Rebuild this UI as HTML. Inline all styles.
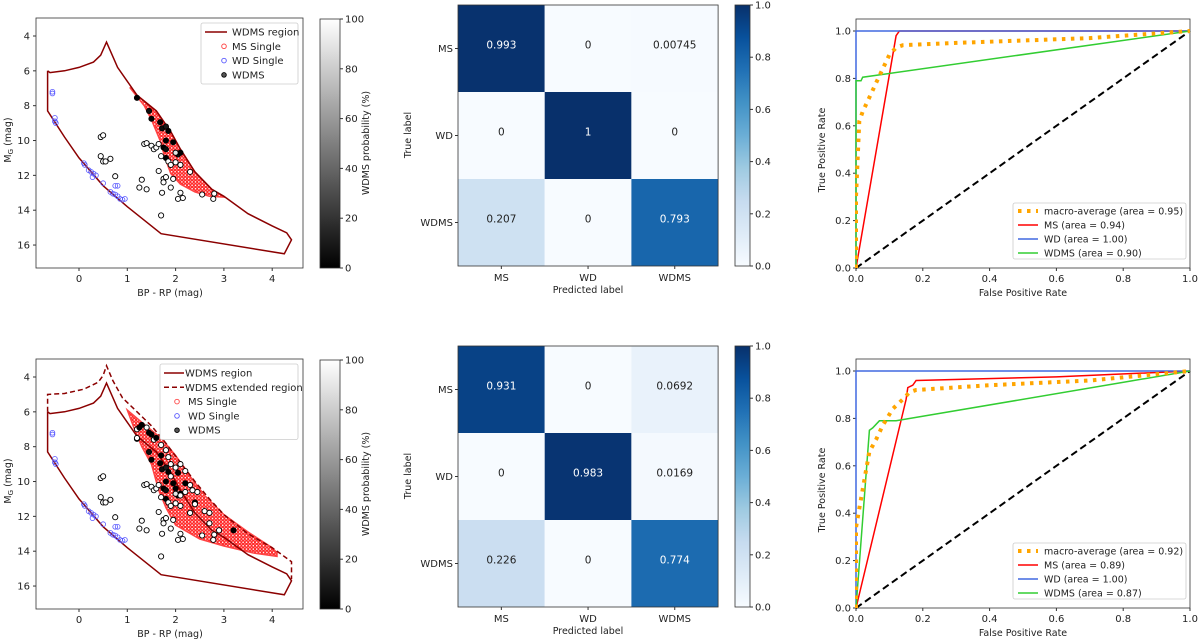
<!DOCTYPE html>
<html><head><meta charset="utf-8"><style>
body{margin:0;background:#fff}
svg{display:block;font-family:"DejaVu Sans","Liberation Sans",sans-serif;fill:#222}
text{font-size:10px}
</style></head><body>
<svg id="fig" width="1200" height="641" viewBox="0 0 1200 641" xmlns="http://www.w3.org/2000/svg">
<defs>
<linearGradient id="grayG" x1="0" y1="1" x2="0" y2="0"><stop offset="0" stop-color="#000"/><stop offset="1" stop-color="#fff"/></linearGradient>
<linearGradient id="bluesG" x1="0" y1="1" x2="0" y2="0">
<stop offset="0" stop-color="#f7fbff"/><stop offset=".125" stop-color="#deebf7"/><stop offset=".25" stop-color="#c6dbef"/><stop offset=".375" stop-color="#9ecae1"/><stop offset=".5" stop-color="#6baed6"/><stop offset=".625" stop-color="#4292c6"/><stop offset=".75" stop-color="#2171b5"/><stop offset=".875" stop-color="#08519c"/><stop offset="1" stop-color="#08306b"/></linearGradient>
<pattern id="msPat" width="3.4" height="3.4" patternUnits="userSpaceOnUse"><rect width="3.4" height="3.4" fill="#fbb"/><circle cx="1.7" cy="1.7" r="1.3" fill="#fff" stroke="#f22" stroke-width="1"/></pattern>
</defs>
</svg>
<script>
// ---------------- data ----------------
const cmdXTicks=[0,1,2,3,4];
const cmdYTicks=[4,6,8,10,12,14,16];
const cbTicks=[0,20,40,60,80,100];
const regionTop=[[-0.65,6.0],[-0.65,8.3],[-0.3,9.8],[0,11.0],[0.5,12.6],[1.0,13.8],[1.7,15.35],[4.25,16.5],[4.4,15.7],[4.3,15.3],[4.0,14.9],[3.5,14.2],[3.0,13.2],[2.75,12.8],[2.4,11.8],[2.1,10.5],[1.9,9.5],[1.6,8.3],[1.2,7.4],[1.0,6.6],[0.8,5.8],[0.57,4.35],[0.45,5.1],[0.3,5.5],[0,5.8],[-0.3,6.0],[-0.6,6.1],[-0.65,6.0]];
const extRegion=[[-0.65,6.0],[-0.65,5.0],[-0.3,4.95],[0.1,4.7],[0.4,4.3],[0.5,3.9],[0.57,3.35],[0.7,4.2],[0.9,5.2],[1.2,6.0],[1.5,6.8],[1.8,7.8],[2.1,8.9],[2.4,10.0],[2.7,11.0],[3.0,11.9],[3.5,13.0],[4.0,13.8],[4.4,14.6],[4.4,15.6]];
const msBandTop=[[1.05,6.95],[1.2,7.4],[1.6,8.3],[1.9,9.5],[2.1,10.5],[2.4,11.8],[2.75,12.8],[3.0,13.25],[2.7,13.2],[2.4,12.95],[2.1,12.5],[1.9,11.9],[1.78,11.0],[1.68,10.0],[1.5,8.8],[1.35,8.0]];
const msBandBot=[[1.0,5.9],[1.3,6.6],[1.7,7.5],[2.0,8.5],[2.3,9.7],[2.6,10.8],[3.0,11.9],[3.5,12.9],[4.0,13.8],[4.1,14.1],[4.1,14.3],[3.6,14.1],[3.0,13.7],[2.5,13.3],[2.0,12.5],[1.8,11.5],[1.65,10.5],[1.5,9.0],[1.3,8.0],[1.15,7.0]];
const wdX=[-0.55,-0.55,-0.5,-0.5,-0.48,0.1,0.12,0.2,0.25,0.3,0.28,0.35,0.5,0.65,0.7,0.75,0.8,0.75,0.8,0.85,0.9,0.95];
const wdY=[7.2,7.3,8.7,8.9,9.0,11.3,11.4,11.7,11.8,11.9,12.1,12.0,12.45,12.95,13.05,13.1,13.2,12.6,12.6,13.35,13.4,13.35];
const wdmsX=[1.2,1.45,1.5,1.68,1.72,1.8,1.85,1.8,1.75,1.8,1.95,1.8,2.05,2.1,0.45,0.5,0.45,0.5,0.55,0.65,0.75,1.35,1.4,1.5,1.55,1.6,1.65,1.7,1.65,1.3,1.25,1.4,1.75,1.75,1.8,1.72,1.9,1.95,2.1,2.05,2.15,1.85,1.9,2.0,2.1,2.3,2.55,2.8,2.78,1.7,2.0];
const wdmsY=[7.55,8.3,8.75,8.95,9.3,9.2,9.45,10.0,10.4,10.5,10.1,11.0,10.8,10.7,9.8,9.7,10.9,11.2,11.2,11.05,12.05,10.2,10.15,10.3,10.5,10.4,10.2,10.9,11.75,12.25,12.7,12.8,12.2,12.4,12.1,13.0,12.7,12.2,13.0,13.35,13.3,11.2,11.4,11.25,11.4,11.8,13.1,13.05,13.35,14.3,10.7];
const wdmsP=[0,5,0,0,5,10,0,0,0,5,0,0,5,0,100,100,100,100,100,100,100,100,100,100,100,100,100,100,100,100,100,100,100,100,100,100,100,100,100,100,100,100,100,100,100,100,100,100,100,100,90];
const wdmsX2=[1.2,1.2,1.25,1.3,1.4,1.45,1.5,1.55,1.6,1.7,1.8,1.7,1.85,1.9,2.0,2.05,2.1,2.2,2.2,2.3,2.35,2.45,2.4,2.4,2.3,2.6,2.7,2.7,2.9,3.2,2.0,2.1,2.2,1.9];
const wdmsY2=[7.0,7.5,6.9,6.75,6.9,7.2,7.3,7.6,7.5,7.9,8.2,8.5,8.6,9.0,9.2,9.5,9.0,9.4,10.1,10.2,10.5,10.6,11.2,11.3,11.8,11.7,11.8,12.4,12.8,12.8,10.4,10.8,10.6,9.7];
const wdmsP2=[100,100,0,0,100,0,0,100,0,100,100,0,100,100,100,0,100,100,0,100,100,100,0,100,100,100,100,100,100,0,0,100,100,100];

const cmLabels=["MS","WD","WDMS"];
const cmTop=[[0.993,0,0.00745],[0,1,0],[0.207,0,0.793]];
const cmBot=[[0.931,0,0.0692],[0,0.983,0.0169],[0.226,0,0.774]];
const cmTextTop=[["0.993","0","0.00745"],["0","1","0"],["0.207","0","0.793"]];
const cmTextBot=[["0.931","0","0.0692"],["0","0.983","0.0169"],["0.226","0","0.774"]];
const cbCmTicks=[0,0.2,0.4,0.6,0.8,1.0];

const rocTicks=[0,0.2,0.4,0.6,0.8,1.0];
const macroFprTop=[0,0,0.01,0.02,0.04,0.06,0.08,0.1,0.12,0.14,0.3,0.5,0.7,0.9,1.0];
const macroTprTop=[0,0.3,0.62,0.66,0.72,0.78,0.84,0.9,0.93,0.94,0.95,0.96,0.97,0.99,1.0];
const msFprTop=[0,0.12,0.13,1];
const msTprTop=[0,0.98,1.0,1.0];
const wdFprTop=[0,0,1];
const wdTprTop=[0,1,1];
const wdmsFprTop=[0,0,0.015,0.02,1];
const wdmsTprTop=[0,0.79,0.79,0.805,1];
const macroFprBot=[0,0,0.01,0.02,0.03,0.04,0.06,0.08,0.11,0.14,0.16,0.18,0.4,0.7,1];
const macroTprBot=[0,0.34,0.42,0.5,0.58,0.66,0.71,0.77,0.84,0.88,0.91,0.92,0.94,0.96,1];
const msFprBot=[0,0.15,0.155,0.17,0.18,0.6,1];
const msTprBot=[0,0.88,0.93,0.94,0.96,0.975,1];
const wdFprBot=[0,0,1];
const wdTprBot=[0,1,1];
const wdmsFprBot=[0,0.04,0.05,0.07,0.12,1];
const wdmsTprBot=[0,0.75,0.76,0.79,0.79,1];
const aucTop=["0.95","0.94","1.00","0.90"];
const aucBot=["0.92","0.89","1.00","0.87"];

// ---------------- helpers ----------------
const svg=document.getElementById('fig');
const NS='http://www.w3.org/2000/svg';
function mk(tag,attrs,parent){const e=document.createElementNS(NS,tag);for(const k in attrs)e.setAttribute(k,attrs[k]);(parent||svg).appendChild(e);return e;}
function txt(s,x,y,anchor,parent,size,extra){const t=mk('text',Object.assign({x:x,y:y,'text-anchor':anchor||'middle'},extra||{}),parent);if(size)t.style.fontSize=size+'px';t.textContent=s;return t;}
function blues(v){const st=["#f7fbff","#deebf7","#c6dbef","#9ecae1","#6baed6","#4292c6","#2171b5","#08519c","#08306b"];const p=Math.max(0,Math.min(1,v))*8;const i=Math.min(7,Math.floor(p)),f=p-i;const a=parseInt(st[i].slice(1),16),b=parseInt(st[i+1].slice(1),16);const c=[16,8,0].map(s=>Math.round(((a>>s)&255)*(1-f)+((b>>s)&255)*f));return 'rgb('+c.join(',')+')';}

// ---------------- CMD panel ----------------
function cmd(dy,ext,name){
  const g=mk('g',{});
  
  
  const X=v=>79+48.3*v, Y=m=>36+17.42*(m-4)+dy;
  const cid='clip'+name;
  const cp=mk('clipPath',{id:cid},g);mk('rect',{x:36,y:18+dy,width:267,height:250},cp);
  const plot=mk('g',{'clip-path':'url(#'+cid+')'},g);
  const pts=a=>a.map(p=>X(p[0]).toFixed(1)+','+Y(p[1]).toFixed(1)).join(' ');
  const band=mk('polygon',{points:pts(ext?msBandBot:msBandTop),fill:'url(#msPat)',stroke:'#f44','stroke-width':1.5},plot);
  
  
  const reg=mk('polyline',{points:pts(regionTop),fill:'none',stroke:'#8b0000','stroke-width':1.5},plot);
  
  
  if(ext){const e=mk('polyline',{points:pts(extRegion),fill:'none',stroke:'#8b0000','stroke-width':1.5,'stroke-dasharray':'5 3'},plot);
    
    }
  for(let i=0;i<wdX.length;i++){const c=mk('circle',{cx:X(wdX[i]),cy:Y(wdY[i]),r:2.4,fill:'none',stroke:'#55f','stroke-width':0.8},plot);
    
    }
  const drawW=(xs,ys,ps)=>{for(let i=0;i<xs.length;i++){const gv=Math.round(ps[i]*2.55);const c=mk('circle',{cx:X(xs[i]),cy:Y(ys[i]),r:2.6,fill:'rgb('+gv+','+gv+','+gv+')',stroke:'#000','stroke-width':0.9},plot);
    
    }};
  drawW(wdmsX,wdmsY,wdmsP);
  if(ext)drawW(wdmsX2,wdmsY2,wdmsP2);
  mk('rect',{x:36,y:18+dy,width:267,height:250,fill:'none',stroke:'#333','stroke-width':0.8},g);
  cmdXTicks.forEach(v=>{mk('line',{x1:X(v),x2:X(v),y1:268+dy,y2:271+dy,stroke:'#333'},g);txt(String(v),X(v),282+dy,'middle',g);});
  cmdYTicks.forEach(v=>{mk('line',{x1:33,x2:36,y1:Y(v),y2:Y(v),stroke:'#333'},g);txt(String(v),30,Y(v)+3.5,'end',g);});
  txt('BP - RP (mag)',170,296+dy,'middle',g,9.5);
  const yl=mk('text',{x:0,y:0,'text-anchor':'middle',transform:'translate(11,'+(140+dy)+') rotate(-90)'},g);yl.style.fontSize='9.5px';
  yl.innerHTML='M<tspan dy="2" font-size="7">G</tspan><tspan dy="-2"> (mag)</tspan>';
  // colorbar
  const cb=mk('rect',{x:320,y:19+dy,width:20,height:249,fill:'url(#grayG)',stroke:'#333','stroke-width':0.8},g);
  
  
  cbTicks.forEach(v=>{const y=268+dy-249*v/100;mk('line',{x1:340,x2:343,y1:y,y2:y,stroke:'#333'},g);txt(String(v),345,y+3.5,'start',g);});
  txt('WDMS probability (%)',0,0,'middle',g,9.5,{transform:'translate(369,'+(143+dy)+') rotate(-90)'});
  // legend
  const lg=mk('g',{},g);
  
  
  const entries=ext?[['line','WDMS region'],['dash','WDMS extended region'],['ms','MS Single'],['wd','WD Single'],['wdms','WDMS']]:[['line','WDMS region'],['ms','MS Single'],['wd','WD Single'],['wdms','WDMS']];
  const lx=ext?160:201, ly=ext?364:23+dy;
  mk('rect',{x:lx,y:ly,width:298-lx,height:entries.length*14.5+3,fill:'#fff',stroke:'#ccc','stroke-width':0.8,rx:2},lg);
  const sx=ext?164:205, tx=ext?185:232;
  entries.forEach((e,i)=>{const y=ly+9+i*14.3;
    if(e[0]==='line'||e[0]==='dash')mk('line',{x1:sx,x2:sx+(ext?20:22),y1:y,y2:y,stroke:'#8b0000','stroke-width':1.5,'stroke-dasharray':e[0]==='dash'?'5 3':'none'},lg);
    else{const col=e[0]==='ms'?'#f44':e[0]==='wd'?'#55f':'#000';mk('circle',{cx:tx-8,cy:y,r:2.3,fill:e[0]==='wdms'?'#555':'none',stroke:col,'stroke-width':0.9},lg);}
    txt(e[1],e[0]==='line'||e[0]==='dash'?tx:tx+(ext?3:0),y+3.5,'start',lg,10);});
}

// ---------------- confusion matrix ----------------
function cm(dy,vals,texts,name){
  const g=mk('g',{});
  
  
  const x0=458,y0=5+dy,cw=86.7,ch=87;
  for(let r=0;r<3;r++)for(let c=0;c<3;c++){
    const v=vals[r][c];
    const cell=mk('rect',{x:x0+c*cw,y:y0+r*ch,width:cw,height:ch,fill:blues(v)},g);
    
    
    const t=txt(texts[r][c],x0+c*cw+cw/2,y0+r*ch+ch/2-0,'middle',g,10.5);t.setAttribute('fill',v>0.5?'#fff':'#222');}
  mk('rect',{x:x0,y:y0,width:3*cw,height:3*ch,fill:'none',stroke:'#333','stroke-width':0.8},g);
  cmLabels.forEach((l,i)=>{const cx=x0+i*cw+cw/2,cy=y0+i*ch+ch/2;
    mk('line',{x1:cx,x2:cx,y1:y0+3*ch,y2:y0+3*ch+3,stroke:'#333'},g);txt(l,cx,y0+3*ch+15,'middle',g);
    mk('line',{x1:x0-3,x2:x0,y1:cy,y2:cy,stroke:'#333'},g);txt(l,x0-5,cy+3.5,'end',g);});
  txt('Predicted label',588,y0+3*ch+27,'middle',g,9.5);
  txt('True label',0,0,'middle',g,9.5,{transform:'translate(411,'+(y0+130)+') rotate(-90)'});
  const cb=mk('rect',{x:735,y:y0,width:15,height:3*ch,fill:'url(#bluesG)',stroke:'#333','stroke-width':0.8},g);
  
  
  cbCmTicks.forEach(v=>{const y=y0+3*ch-3*ch*v;mk('line',{x1:750,x2:753,y1:y,y2:y,stroke:'#333'},g);txt(v.toFixed(1),755,y+3.5,'start',g);});
}

// ---------------- ROC ----------------
function roc(dy,series,auc,name){
  const g=mk('g',{});
  
  
  const X=f=>856+334*f, Y=t=>268+dy-237*t;
  mk('rect',{x:856,y:19+dy,width:334,height:249,fill:'none',stroke:'#333','stroke-width':0.8},g);
  rocTicks.forEach(v=>{mk('line',{x1:X(v),x2:X(v),y1:268+dy,y2:271+dy,stroke:'#333'},g);txt(v.toFixed(1),X(v),282+dy,'middle',g);
    mk('line',{x1:853,x2:856,y1:Y(v),y2:Y(v),stroke:'#333'},g);txt(v.toFixed(1),851,Y(v)+3.5,'end',g);});
  txt('False Positive Rate',1023,296+dy,'middle',g,9.5);
  txt('True Positive Rate',0,0,'middle',g,9.5,{transform:'translate(825,'+(150+dy)+') rotate(-90)'});
  const diag=mk('line',{x1:X(0),y1:Y(0),x2:X(1),y2:Y(1),stroke:'#000','stroke-width':2,'stroke-dasharray':'7 4'},g);
  
  
  const cp='rc'+name;const c=mk('clipPath',{id:cp},g);mk('rect',{x:855,y:14+dy,width:340,height:256},c);
  series.forEach(s=>{const p=mk('polyline',{points:s.f.map((f,i)=>X(f).toFixed(1)+','+Y(s.t[i]).toFixed(1)).join(' '),fill:'none',stroke:s.col,'stroke-width':s.w,'stroke-dasharray':s.dash||'none','clip-path':'url(#'+cp+')'},g);
    
    });
  const lg=mk('g',{},g);
  
  
  mk('rect',{x:1013,y:203+dy,width:173,height:56,fill:'#fff',stroke:'#ccc','stroke-width':0.8,rx:2},lg);
  const labels=['macro-average (area = '+auc[0]+')','MS (area = '+auc[1]+')','WD (area = '+auc[2]+')','WDMS (area = '+auc[3]+')'];
  const order=[series[3],series[0],series[1],series[2]];
  labels.forEach((l,i)=>{const y=211+dy+i*14;const s=order[i];
    mk('line',{x1:1018,x2:1038,y1:y,y2:y,stroke:s.col,'stroke-width':s.w,'stroke-dasharray':s.dash||'none'},lg);
    txt(l,1044,y+3.5,'start',lg,9.5);});
}

cmd(0,false,'cmd-panel-top');
cmd(341,true,'cmd-panel-bottom');
cm(0,cmTop,cmTextTop,'confusion-matrix-top');
cm(341,cmBot,cmTextBot,'confusion-matrix-bottom');
roc(0,[{f:msFprTop,t:msTprTop,col:'#f00',w:1.5,name:'roc-ms'},{f:wdFprTop,t:wdTprTop,col:'#4169e1',w:1.5,name:'roc-wd'},{f:wdmsFprTop,t:wdmsTprTop,col:'#32cd32',w:1.5,name:'roc-wdms'},{f:macroFprTop,t:macroTprTop,col:'#ffa500',w:4,dash:'3.5 5.5',name:'roc-macro-average'}],aucTop,'roc-panel-top');
roc(340,[{f:msFprBot,t:msTprBot,col:'#f00',w:1.5,name:'roc-ms'},{f:wdFprBot,t:wdTprBot,col:'#4169e1',w:1.5,name:'roc-wd'},{f:wdmsFprBot,t:wdmsTprBot,col:'#32cd32',w:1.5,name:'roc-wdms'},{f:macroFprBot,t:macroTprBot,col:'#ffa500',w:4,dash:'3.5 5.5',name:'roc-macro-average'}],aucBot,'roc-panel-bottom');
</script>
</body></html>
